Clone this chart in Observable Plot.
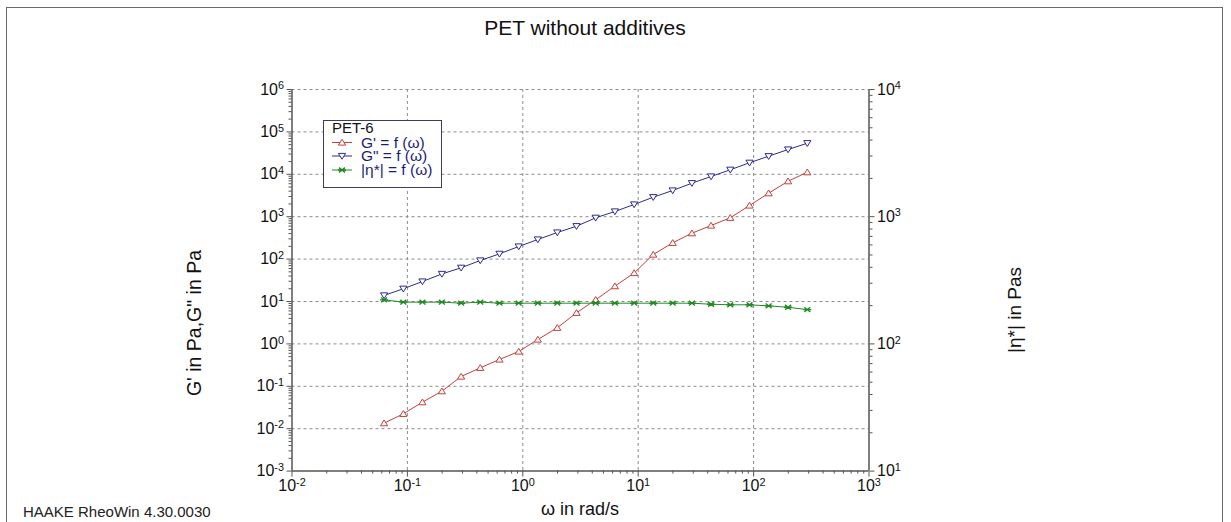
<!DOCTYPE html>
<html><head><meta charset="utf-8">
<script src="https://cdn.jsdelivr.net/npm/d3@7"></script>
<script src="https://cdn.jsdelivr.net/npm/@observablehq/plot@0.6"></script>
<style>
html,body{margin:0;padding:0;background:#fff;overflow:hidden;}
#wrap{position:relative;width:1231px;height:522px;overflow:hidden;font-family:"Liberation Sans",Arial,sans-serif;background:#fff;}
#frame{position:absolute;left:6px;top:7px;width:1217px;height:560px;border:1.5px solid #6a6a6a;box-sizing:border-box;}
#wrap svg{position:absolute;left:0;top:0;}
</style></head>
<body><div id="wrap"><div id="frame"></div></div>
<script>
// ---- data ----
const omega   = [0.0628, 0.0922, 0.135, 0.199, 0.292, 0.428, 0.628, 0.922, 1.35, 1.99, 2.92, 4.28, 6.28, 9.22, 13.5, 19.9, 29.2, 42.8, 62.8, 92.2, 135, 199, 292];
const gPrime  = [0.0135, 0.0224, 0.0422, 0.0766, 0.170, 0.273, 0.429, 0.662, 1.27, 2.40, 5.41, 11.0, 23.0, 47.0, 128, 242, 408, 620, 942, 1840, 3580, 6870, 11200];
const gDouble = [13.9, 20.0, 29.6, 44.6, 62.4, 92.7, 133, 198, 290, 424, 597, 942, 1327, 1940, 2884, 4150, 6170, 8870, 12800, 18700, 26700, 38400, 54100];
const etaStar = [222, 213, 213, 213, 209, 213, 209, 209, 209, 209, 209, 209, 209, 209, 209, 209, 209, 205, 203, 203, 199, 194, 186];
const xTicks     = [1e-2, 1e-1, 1, 1e1, 1e2, 1e3];
const leftTicks  = [1e-3, 1e-2, 1e-1, 1, 1e1, 1e2, 1e3, 1e4, 1e5, 1e6];
const rightTicks = [1e1, 1e2, 1e3, 1e4];
const titleText = "PET without additives";
const xLabel = "ω in rad/s";
const yLeftLabel = "G' in Pa,G\" in Pa";
const yRightLabel = "|η*| in Pas";
const footText = "HAAKE RheoWin 4.30.0030";
const legendTitle = "PET-6";
const seriesNames = ["G' = f (ω)", "G\" = f (ω)", "|η*| = f (ω)"];

const RED = "#c4403c", BLUE = "#2c2c8c", GREEN = "#228a22", AX = "#555";
const FONT = "'Liberation Sans', Arial, sans-serif";

const rows = omega.map((w, i) => ({w, gp: gPrime[i], gpp: gDouble[i], eta: etaStar[i]}));
const fmt = d => "10^" + Math.round(Math.log10(d));
const minor = (lo, hi) => { const a = []; for (let e = lo; e < hi; e++) for (let k = 2; k <= 9; k++) a.push(k * Math.pow(10, e)); return a; };

const triUp = {draw(c){ c.moveTo(0,-3.2); c.lineTo(3.6,2.6); c.lineTo(-3.6,2.6); c.closePath(); }};
const triDown = {draw(c){ c.moveTo(0,3.2); c.lineTo(3.6,-2.6); c.lineTo(-3.6,-2.6); c.closePath(); }};
const star = {draw(c){ c.moveTo(-4,0); c.lineTo(4,0); c.moveTo(-3,-2.4); c.lineTo(3,2.4); c.moveTo(-3,2.4); c.lineTo(3,-2.4); }};

const common = {
  width: 1231, height: 522,
  marginLeft: 291.5, marginRight: 362.5, marginTop: 89, marginBottom: 51.4,
  style: {fontFamily: FONT, background: "transparent", overflow: "visible", color: "#111"}
};
const grid = {stroke: "#8c8c8c", strokeOpacity: 1, strokeDasharray: "3,3", strokeWidth: 1};

const chartA = Plot.plot({
  ...common,
  x: {type: "log", domain: [1e-2, 1e3]},
  y: {type: "log", domain: [1e-3, 1e6]},
  marks: [
    Plot.gridX(xTicks.slice(1, -1), grid),
    Plot.gridY(leftTicks.slice(1), grid),
    Plot.axisX(minor(-2, 3), {tickSize: 3, tickFormat: () => "", label: null, stroke: AX}),
    Plot.axisX(xTicks, {tickSize: 6, tickPadding: 3, tickFormat: fmt, fontSize: 16, label: null, stroke: AX}),
    Plot.axisY(minor(-3, 6), {tickSize: 3, tickFormat: () => "", label: null, stroke: AX}),
    Plot.axisY(leftTicks, {tickSize: 5, tickPadding: 3, tickFormat: fmt, fontSize: 16, label: null, stroke: AX}),
    Plot.ruleX([1e-2], {stroke: AX, strokeWidth: 1.5}),
    Plot.ruleY([1e-3], {stroke: AX, strokeWidth: 1.5}),
    Plot.line(rows, {x: "w", y: "gp", stroke: RED, strokeWidth: 1}),
    Plot.dot(rows, {x: "w", y: "gp", r: 4, symbol: triUp, stroke: RED, fill: "white", strokeWidth: 1}),
    Plot.line(rows, {x: "w", y: "gpp", stroke: BLUE, strokeWidth: 1}),
    Plot.dot(rows, {x: "w", y: "gpp", r: 4, symbol: triDown, stroke: BLUE, fill: "white", strokeWidth: 1})
  ]
});

const chartB = Plot.plot({
  ...common,
  x: {type: "log", domain: [1e-2, 1e3], axis: null},
  y: {type: "log", domain: [1e1, 1e4]},
  marks: [
    Plot.axisY(minor(1, 4), {anchor: "right", tickSize: 3, tickFormat: () => "", label: null, stroke: AX}),
    Plot.axisY(rightTicks, {anchor: "right", tickSize: 5, tickPadding: 3, tickFormat: fmt, fontSize: 16, label: null, stroke: AX}),
    Plot.ruleX([1e3], {stroke: AX, strokeWidth: 1.5}),
    Plot.line(rows, {x: "w", y: "eta", stroke: GREEN, strokeWidth: 1}),
    Plot.dot(rows, {x: "w", y: "eta", r: 4, symbol: star, stroke: GREEN, fill: "none", strokeWidth: 1.4})
  ]
});

function supify(svg) {
  d3.select(svg).selectAll("text").each(function() {
    const s = this.textContent, i = s.indexOf("^");
    if (i < 0) return;
    const el = d3.select(this);
    el.text(null);
    el.append("tspan").text(s.slice(0, i));
    el.append("tspan").attr("dy", "-0.5em").attr("font-size", "0.68em").text(s.slice(i + 1));
  });
}
supify(chartA); supify(chartB);

const wrap = document.getElementById("wrap");
wrap.appendChild(chartA);
wrap.appendChild(chartB);

// overlay: title, labels, legend, footnote
const ov = d3.select(wrap).append("svg").attr("width", 1231).attr("height", 522)
  .style("font-family", FONT).style("overflow", "visible");
ov.append("text").attr("x", 585).attr("y", 35).attr("text-anchor", "middle").attr("font-size", 21).attr("fill", "#111").text(titleText);
ov.append("text").attr("x", 580).attr("y", 515).attr("text-anchor", "middle").attr("font-size", 18).attr("fill", "#111").text(xLabel);
ov.append("text").attr("transform", "translate(201,323) rotate(-90)").attr("text-anchor", "middle").attr("font-size", 19.5).attr("fill", "#111").text(yLeftLabel);
ov.append("text").attr("transform", "translate(1021,310) rotate(-90)").attr("text-anchor", "middle").attr("font-size", 19).attr("fill", "#111").text(yRightLabel);
ov.append("text").attr("x", 23).attr("y", 517).attr("font-size", 15).attr("fill", "#222").text(footText);

const lg = ov.append("g");
lg.append("rect").attr("x", 323.5).attr("y", 120.5).attr("width", 118).attr("height", 67)
  .attr("fill", "white").attr("stroke", "#3c3c5c").attr("stroke-width", 1);
lg.append("text").attr("x", 332).attr("y", 133).attr("font-size", 15).attr("fill", "#111").text(legendTitle);
const symDefs = [[triUp, RED, "white", 1], [triDown, BLUE, "white", 1], [star, GREEN, "none", 1.4]];
const baselines = [147.5, 161, 175];
seriesNames.forEach((name, i) => {
  const yb = baselines[i], ym = yb - 5;
  const [sym, col, fill, sw] = symDefs[i];
  lg.append("line").attr("x1", 332).attr("x2", 352).attr("y1", ym).attr("y2", ym).attr("stroke", col);
  lg.append("path").attr("transform", `translate(342,${ym})`).attr("d", d3.symbol(sym)()).attr("stroke", col).attr("fill", fill).attr("stroke-width", sw);
  lg.append("text").attr("x", 361).attr("y", yb).attr("font-size", 15.5).attr("fill", "#1c1c78").text(name);
});
</script>
</body></html>
